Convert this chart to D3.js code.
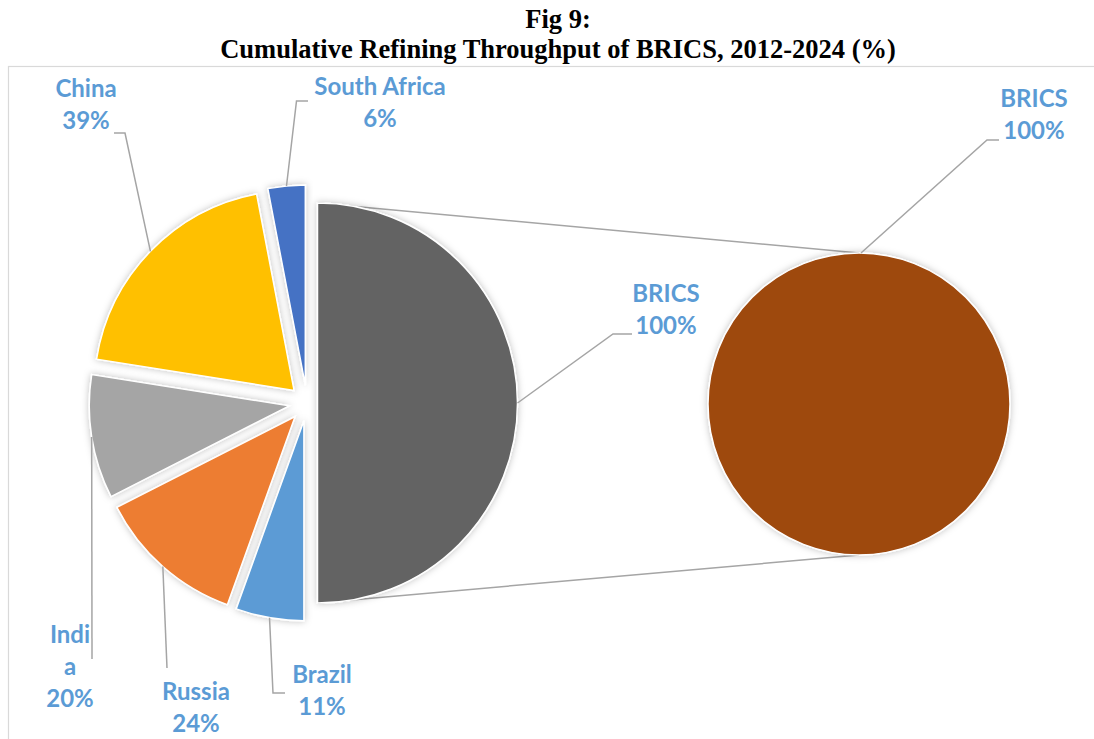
<!DOCTYPE html>
<html>
<head>
<meta charset="utf-8">
<script src="https://cdn.jsdelivr.net/npm/d3@7"></script>
<style>
  html, body { margin: 0; padding: 0; background: #fff; }
  svg { display: block; }
</style>
</head>
<body>
<svg id="chart" width="1094" height="739"></svg>
<script>
// ---- data ----
const titleLines = ["Fig 9:", "Cumulative Refining Throughput of BRICS, 2012-2024 (%)"];
const categories = ["Brazil", "Russia", "India", "China", "South Africa"];
const shares = [11, 24, 20, 39, 6];
const shareLabels = ["11%", "24%", "20%", "39%", "6%"];
const otherName = "BRICS";
const otherShare = 100;
const otherLabel = "100%";
const sliceColors = ["#5B9BD5", "#ED7D31", "#A5A5A5", "#FFC000", "#4472C4"];
const otherColor = "#636363";
const secondColor = "#9E480E";

// ---- layout ----
const W = 1094, H = 739;
const svg = d3.select("#chart");
const defs = svg.append("defs");
const f = defs.append("filter").attr("id", "glow").attr("x", "-20%").attr("y", "-20%").attr("width", "140%").attr("height", "140%");
f.append("feDropShadow").attr("dx", 0).attr("dy", 0).attr("stdDeviation", 3.5)
  .attr("flood-color", "#000").attr("flood-opacity", 0.25);

// frame
svg.append("rect").attr("x", 8.5).attr("y", 66.5).attr("width", W + 20).attr("height", H)
  .attr("fill", "none").attr("stroke", "#D9D9D9").attr("stroke-width", 1.2);

// title
svg.selectAll("text.title").data(titleLines).join("text")
  .attr("class", "title")
  .attr("x", 558).attr("y", (d, i) => 28 + i * 30)
  .attr("text-anchor", "middle")
  .attr("font-family", "'Liberation Serif', 'Times New Roman', serif")
  .attr("font-weight", "bold").attr("font-size", 26.5)
  .attr("fill", "#000").text(d => d);

const c0 = { x: 307, y: 403 };
const R = 200;
const explodeSmall = 18, explodeOther = 10.5;

const pieData = [{ name: otherName, value: d3.sum(shares), color: otherColor, other: true }]
  .concat(categories.map((c, i) => ({ name: c, value: shares[i], color: sliceColors[i], label: shareLabels[i] })));

const arcs = d3.pie().sort(null).value(d => d.value).startAngle(0).endAngle(2 * Math.PI)(pieData);
const arcGen = d3.arc().innerRadius(0).outerRadius(R);

arcs.forEach(a => {
  const mid = (a.startAngle + a.endAngle) / 2;
  const d = a.data.other ? explodeOther : explodeSmall;
  a.cx = c0.x + d * Math.sin(mid);
  a.cy = c0.y - d * Math.cos(mid);
  a.mid = mid;
  a.tip = { x: a.cx + R * Math.sin(mid), y: a.cy - R * Math.cos(mid) };
});

const gray = arcs[0];

// second pie
const c2 = { x: 859, y: 404 };
const R2 = 151;

// connector lines
const lineColor = "#A5A5A5";
svg.append("line").attr("x1", gray.cx).attr("y1", gray.cy - R).attr("x2", c2.x).attr("y2", c2.y - R2)
  .attr("stroke", lineColor).attr("stroke-width", 1.5);
svg.append("line").attr("x1", gray.cx).attr("y1", gray.cy + R).attr("x2", c2.x).attr("y2", c2.y + R2)
  .attr("stroke", lineColor).attr("stroke-width", 1.5);

// main pie slices
svg.append("g").selectAll("path").data(arcs).join("path")
  .attr("transform", a => `translate(${a.cx},${a.cy})`)
  .attr("d", arcGen)
  .attr("fill", a => a.data.color)
  .attr("stroke", "#fff").attr("stroke-width", 1.5)
  .attr("filter", "url(#glow)");

// second pie (single slice)
const arcs2 = d3.pie().sort(null).value(d => d)([otherShare]);
svg.append("g").attr("transform", `translate(${c2.x},${c2.y})`)
  .selectAll("path").data(arcs2).join("path")
  .attr("d", d3.arc().innerRadius(0).outerRadius(R2))
  .attr("fill", secondColor).attr("stroke", "#fff").attr("stroke-width", 1.5)
  .attr("filter", "url(#glow)");

// labels: layout of leader elbows and text centres
const labelLayout = {
  "Brazil":       { lines: ["Brazil", "11%"], x: 322, y0: 683, elbow: [[273, 693], [285, 693]] },
  "Russia":       { lines: ["Russia", "24%"], x: 196, y0: 700, elbow: [[167, 668]] },
  "India":        { lines: ["Indi", "a", "20%"], x: 70, y0: 643, elbow: [[92, 659]] },
  "China":        { lines: ["China", "39%"], x: 86, y0: 97, elbow: [[125, 133], [114, 133]] },
  "South Africa": { lines: ["South Africa", "6%"], x: 380, y0: 95, elbow: [[296.5, 101], [308, 101]] },
  "BRICS":        { lines: ["BRICS", "100%"], x: 666, y0: 302, elbow: [[613, 334], [632, 334]] }
};
const labelColor = "#5B9BD5";
const fontFam = "Lato, 'Open Sans', sans-serif";

function drawLabel(start, lay) {
  const pts = [[start.x, start.y]].concat(lay.elbow);
  svg.append("path").attr("d", d3.line()(pts)).attr("fill", "none")
    .attr("stroke", lineColor).attr("stroke-width", 1.5);
  const t = svg.append("text").attr("text-anchor", "middle")
    .attr("font-family", fontFam).attr("font-weight", "bold").attr("font-size", 24)
    .attr("fill", labelColor);
  lay.lines.forEach((l, i) => {
    t.append("tspan").attr("x", lay.x).attr("y", lay.y0 + i * 32).text(l);
  });
}

arcs.forEach(a => {
  const lay = labelLayout[a.data.name];
  drawLabel(a.tip, lay);
});

// label for second pie
drawLabel({ x: c2.x + 2, y: c2.y - R2 }, { lines: [otherName, otherLabel], x: 1034, y0: 107, elbow: [[987, 140], [999, 140]] });
</script>
</body>
</html>
